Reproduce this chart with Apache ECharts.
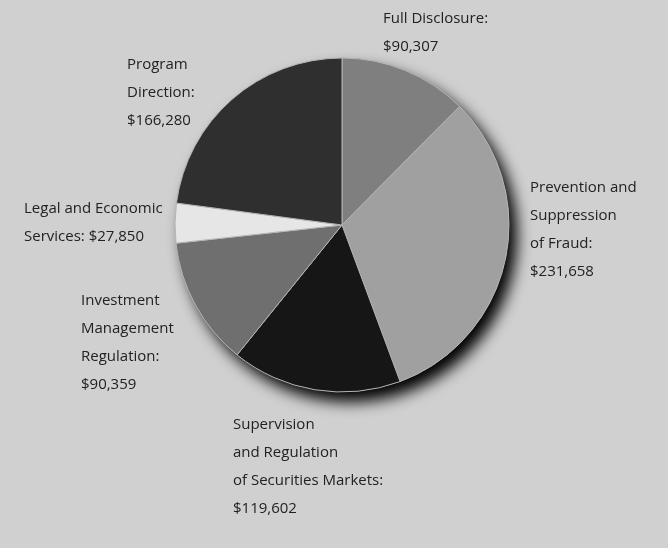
<!DOCTYPE html>
<html>
<head>
<meta charset="utf-8">
<script src="https://cdn.jsdelivr.net/npm/echarts@6/dist/echarts.min.js"></script>
<style>
  html, body { margin: 0; padding: 0; background: #d0d0d0; }
  #chart { width: 668px; height: 548px; }
</style>
</head>
<body>
<div id="chart"></div>
<script>
// budget by program, clockwise from 12 o'clock
const names = [
  'Full Disclosure',
  'Prevention and\nSuppression\nof Fraud',
  'Supervision\nand Regulation\nof Securities Markets',
  'Investment\nManagement\nRegulation',
  'Legal and Economic\nServices',
  'Program\nDirection'
]
const values = [90307, 231658, 119602, 90359, 27850, 166280]
const colors = ['#7f7f7f', '#a0a0a0', '#161616', '#6f6f6f', '#e6e6e6', '#2f2f2f']
// whether the amount goes on its own line
const valueOnNewLine = [true, true, true, true, false, true]

// label anchors (top-left of text block)
const labelPos = [
  [383, 5],
  [530, 174],
  [233, 411],
  [81, 287],
  [24, 195],
  [127, 51]
]

const total = values.reduce((a, b) => a + b, 0)
const fmt = v => '$' + v.toLocaleString('en-US')

const chart = echarts.init(document.getElementById('chart'))

chart.setOption({
  backgroundColor: '#d0d0d0',
  animation: false,
  series: [
    {
      // backdrop disc that carries the drop shadow
      type: 'pie',
      silent: true,
      center: [342, 225],
      radius: 167,
      label: { show: false },
      labelLine: { show: false },
      itemStyle: {
        color: '#9a9a9a',
        shadowColor: 'rgba(0,0,0,1)',
        shadowBlur: 15,
        shadowOffsetX: 8,
        shadowOffsetY: 10
      },
      data: [{ value: total }]
    },
    {
      type: 'pie',
      center: [342, 225],
      radius: 167,
      startAngle: 90,
      clockwise: true,
      itemStyle: { borderColor: '#b4b4b4', borderWidth: 1 },
      labelLine: { show: false },
      label: {
        show: true,
        position: 'outside',
        color: '#222',
        fontFamily: 'Open Sans',
        fontSize: 15,
        lineHeight: 28,
        overflow: 'none',
        formatter: p => p.name + ':' + (valueOnNewLine[p.dataIndex] ? '\n' : ' ') + fmt(p.value)
      },
      labelLayout: p => ({
        x: labelPos[p.dataIndex][0],
        y: labelPos[p.dataIndex][1],
        align: 'left',
        verticalAlign: 'top',
        hideOverlap: false
      }),
      data: names.map((n, i) => ({
        name: n,
        value: values[i],
        itemStyle: { color: colors[i] }
      }))
    }
  ]
})
</script>
</body>
</html>
